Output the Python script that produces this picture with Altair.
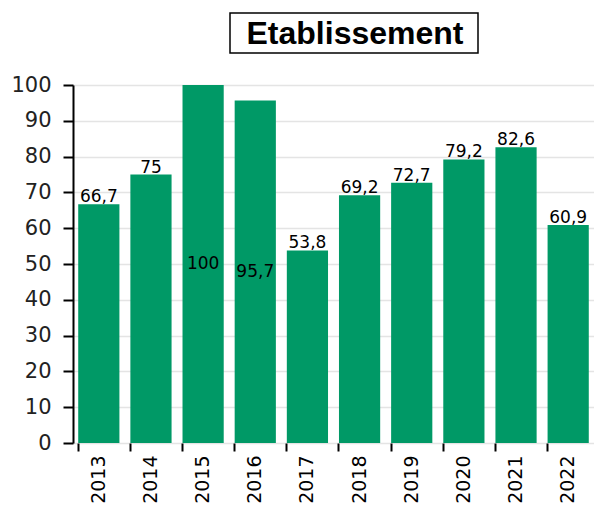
import altair as alt
import pandas as pd

years = ["2013", "2014", "2015", "2016", "2017", "2018", "2019", "2020", "2021", "2022"]
values = [66.7, 75, 100, 95.7, 53.8, 69.2, 72.7, 79.2, 82.6, 60.9]
labels = ["66,7", "75", "100", "95,7", "53,8", "69,2", "72,7", "79,2", "82,6", "60,9"]
inside = [False, False, True, True, False, False, False, False, False, False]
yticks = [0, 10, 20, 30, 40, 50, 60, 70, 80, 90, 100]

df = pd.DataFrame({"year": years, "value": values, "label": labels, "inside": inside})
df["half"] = df["value"] / 2

xscale = alt.Scale(paddingInner=0.21, paddingOuter=0.1)
yscale = alt.Scale(domain=[0, 100], nice=False)
xaxis = alt.Axis(labelAngle=-90, labelAlign="right", labelBaseline="middle",
                 bandPosition=0, domain=False, title=None,
                 labelFontSize=19, labelFont="DejaVu Sans", labelColor="#000",
                 tickColor="#000", tickWidth=2, tickSize=8, labelPadding=4, grid=False)
yaxis = alt.Axis(values=yticks, labelOverlap=False, title=None,
                 labelFontSize=21, labelFont="DejaVu Sans", labelColor="#222",
                 domainColor="#000", domainWidth=2, tickColor="#000", tickWidth=2,
                 tickSize=10, gridColor="#e4e4e4", gridWidth=1.5, labelPadding=12)

base = alt.Chart(df)
bars = base.mark_bar(color="#009966").encode(
    x=alt.X("year:N", sort=years, scale=xscale, axis=xaxis),
    y=alt.Y("value:Q", scale=yscale, axis=yaxis),
)
top_labels = base.transform_filter("!datum.inside").mark_text(
    baseline="bottom", dy=2, fontSize=17, font="DejaVu Sans", color="#000"
).encode(x=alt.X("year:N", sort=years, scale=xscale, axis=xaxis),
         y=alt.Y("value:Q", scale=yscale, axis=yaxis), text="label:N")
mid_labels = base.transform_filter("datum.inside").mark_text(
    baseline="middle", fontSize=17, font="DejaVu Sans", color="#000"
).encode(x=alt.X("year:N", sort=years, scale=xscale, axis=xaxis),
         y=alt.Y("half:Q", scale=yscale, axis=yaxis), text="label:N")

tdf = pd.DataFrame({"t": ["Etablissement"]})
box = alt.Chart(tdf).mark_rect(
    fill="white", stroke="#000", strokeWidth=1.5
).encode(x=alt.value(157), x2=alt.value(405), y=alt.value(-72), y2=alt.value(-32))
title = alt.Chart(tdf).mark_text(
    font="Liberation Sans", fontWeight="bold", fontSize=32, color="#000", baseline="middle"
).encode(x=alt.value(282), y=alt.value(-51), text="t:N")

chart = alt.layer(bars, top_labels, mid_labels, box, title).properties(
    width=521, height=358,
    autosize=alt.AutoSizeParams(type="none"),
    padding={"left": 65, "top": 77, "right": 0, "bottom": 63},
).configure_view(stroke=None)

chart.save("out.html", embed_options={"renderer": "svg", "actions": False})
